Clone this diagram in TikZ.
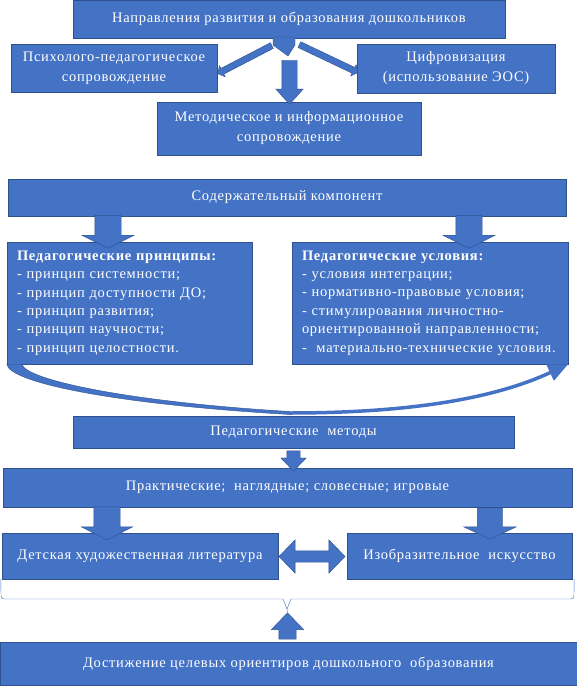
\documentclass[tikz,border=0pt]{standalone}
\usepackage{fontspec}
\setmainfont[LetterSpace=5]{Liberation Serif}
\usetikzlibrary{positioning, calc, shapes.arrows, arrows.meta}
\definecolor{boxblue}{HTML}{4472C4}
\definecolor{edgeblue}{HTML}{2F528F}

\begin{document}
\begin{tikzpicture}[x=1pt,y=-1pt]
	\tikzstyle{box}=[rectangle,draw=edgeblue,fill=boxblue,text=white,inner sep=0pt,align=center,font=\fontsize{14.5}{20}\selectfont]
	\tikzstyle{listbox}=[box,align=left,inner xsep=10pt,font=\fontsize{14.5}{18.4}\selectfont]
	\tikzstyle{blockarrow}=[single arrow,draw=edgeblue,fill=boxblue,inner sep=0pt,minimum width=0pt]
	\useasboundingbox (0,0) rectangle (577,687);
	% boxes
	\node[box,minimum width=432,minimum height=38](b1) at (289,19) {Направления развития и образования дошкольников};
	\node[box,minimum width=206,minimum height=48](b2) at (114,68) {Психолого-педагогическое\\сопровождение};
	\node[box,minimum width=198,minimum height=49](b3) at (456,68.5) {Цифровизация\\(использование ЭОС)};
	\node[box,minimum width=264,minimum height=53](b4) at (289,128.5) {Методическое и информационное\\сопровождение};
	\node[box,minimum width=558,minimum height=37](b5) at (287,197.5) {Содержательный компонент};
	\node[listbox,text width=225,minimum height=122](b6) at (129.5,303) {\textbf{Педагогические принципы:}\\- принцип системности;\\- принцип доступности ДО;\\- принцип развития;\\- принцип научности;\\- принцип целостности.};
	\node[listbox,text width=256,minimum height=122](b7) at (430,303) {\textbf{Педагогические условия:}\\- условия интеграции;\\- нормативно-правовые условия;\\- стимулирования личностно-\\ориентированной направленности;\\-~ материально-технические условия.};
	\node[box,minimum width=441,minimum height=32](b8) at (293.5,432) {Педагогические~ методы};
	\node[box,minimum width=569,minimum height=39](b9) at (287.5,487.5) {Практические;~ наглядные; словесные; игровые};
	\node[box,minimum width=276,minimum height=46](b10) at (140,556) {Детская художественная литература};
	\node[box,minimum width=225,minimum height=46](b11) at (459.5,556) {Изобразительное~ искусство};
	\node[box,minimum width=577,minimum height=43](b12) at (288.5,663.5) {Достижение целевых ориентиров дошкольного~ образования};
	% arrows at the top
	\node[blockarrow,rotate=207.4,inner sep=3pt,single arrow head extend=3pt,single arrow tip angle=100,minimum height=61](a2) at (246,59) {};
	\node[blockarrow,rotate=334.6,inner sep=3pt,single arrow head extend=3pt,single arrow tip angle=100,minimum height=65](a3) at (327.5,58) {};
	\filldraw[draw=edgeblue,fill=boxblue] (273,37) -- (295,37) -- (295,45) -- (288,56) -- (273,45) -- cycle;
	\node[blockarrow,shape border rotate=270,inner sep=7.5pt,single arrow head extend=6pt,single arrow tip angle=84,minimum height=44](a1) at (289.5,78) {};
	% arrows to the principles and conditions
	\node[blockarrow,shape border rotate=270,inner sep=13pt,single arrow head extend=13pt,single arrow tip angle=127,minimum height=25](a4) at (108,228.5) {};
	\node[blockarrow,shape border rotate=270,inner sep=13pt,single arrow head extend=13pt,single arrow tip angle=127,minimum height=25](a5) at (469,228.5) {};
	% curved arrow
	\filldraw[draw=edgeblue,fill=boxblue] (b6.south west) .. controls (9,382) and (110,404) .. (290,414.5) -- (290,411.5) .. controls (130,402) and (26,380) .. ($(b6.south west)+(15,0)$) -- cycle;
	\draw[boxblue,line width=3.5pt,-{Triangle[width=17pt,length=20pt]}] (289,413) .. controls (420,413) and (500,396) .. (b7.south east);
	% lower arrows
	\node[blockarrow,shape border rotate=270,inner sep=6.5pt,single arrow head extend=6pt,single arrow tip angle=88,minimum height=19](a6) at (293.5,457.5) {};
	\node[blockarrow,shape border rotate=270,inner sep=13pt,single arrow head extend=12.5pt,single arrow tip angle=126,minimum height=24](a7) at (107,520) {};
	\node[blockarrow,shape border rotate=270,inner sep=12.5pt,single arrow head extend=13.5pt,single arrow tip angle=130,minimum height=23](a8) at (490,520.5) {};
	\node[double arrow,draw=edgeblue,fill=boxblue,inner sep=5.5pt,double arrow head extend=11pt,double arrow tip angle=92,minimum height=66](a9) at (312,556.5) {};
	\node[blockarrow,shape border rotate=90,inner sep=8.5pt,single arrow head extend=7.5pt,single arrow tip angle=88,minimum height=23](a10) at (287.5,630.5) {};
	% brace
	\draw[boxblue] ($(b10.south west)+(-1,0)$) -- (1,595) .. controls (1,598) .. (4,599) -- (283,599) -- (287,609) -- (a10.tip);
	\draw[boxblue] ($(b11.south east)+(2,0)$) -- (574,595) .. controls (574,598) .. (571,599) -- (291,599) -- (287,609);
\end{tikzpicture}
\end{document}
